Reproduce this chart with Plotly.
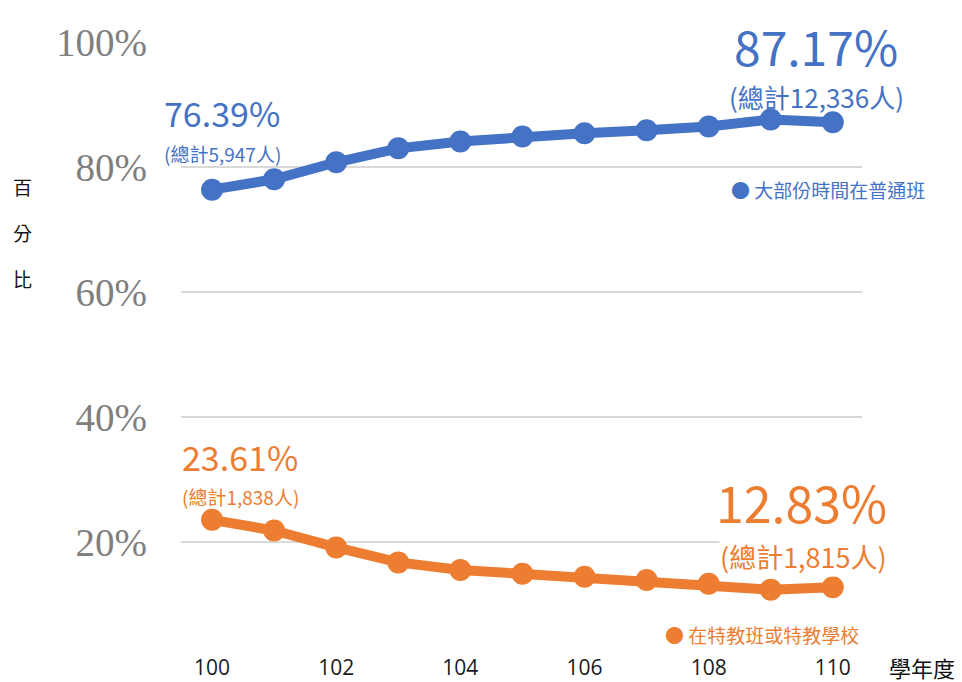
import plotly.graph_objects as go

years = [100, 101, 102, 103, 104, 105, 106, 107, 108, 109, 110]
general_pct = [76.39, 78.05, 80.77, 83.0, 84.1, 84.9, 85.4, 85.9, 86.5, 87.6, 87.17]
special_pct = [23.61, 21.9, 19.2, 16.8, 15.6, 15.0, 14.5, 14.0, 13.4, 12.45, 12.83]
series_names = ["大部份時間在普通班", "在特教班或特教學校"]
y_ticks = [20, 40, 60, 80, 100]
y_tick_text = ["20%", "40%", "60%", "80%", "100%"]
x_ticks = [100, 102, 104, 106, 108, 110]

BLUE = "#4472C4"
ORANGE = "#ED7D31"
OFF = 8  # page body margin
W, H = 962 - OFF, 682 - OFF
ML, MR, MT, MB = 181 - OFF, 100, 42 - OFF, 52
PW, PH = W - ML - MR, H - MT - MB


def px(x):
    return (x - OFF - ML) / PW


def py(y):
    return (H - MB - (y - OFF)) / PH


fig = go.Figure()
fig.add_trace(go.Scatter(x=years, y=general_pct, mode="lines+markers", name=series_names[0],
                         line=dict(color=BLUE, width=10), marker=dict(color=BLUE, size=22),
                         showlegend=False, cliponaxis=False))
fig.add_trace(go.Scatter(x=years, y=special_pct, mode="lines+markers", name=series_names[1],
                         line=dict(color=ORANGE, width=10), marker=dict(color=ORANGE, size=22),
                         showlegend=False, cliponaxis=False))

CJK = "Noto Sans CJK TC"
ann = []


def add(text, x, y, size, color, xanchor="center", bg=None, family=CJK):
    a = dict(text=text, x=px(x), y=py(y), xref="paper", yref="paper", showarrow=False,
             xanchor=xanchor, yanchor="middle", font=dict(family=family, size=size, color=color),
             borderpad=0)
    if bg:
        a["bgcolor"] = bg
    ann.append(a)


add("76.39%", 222, 113, 34, BLUE)
add("(總計5,947人)", 222, 153, 19, BLUE)
add("87.17%", 816, 45, 48, BLUE, bg="white")
add("(總計12,336人)", 816, 96, 26, BLUE)
add("23.61%", 240, 456, 34, ORANGE)
add("(總計1,838人)", 240, 496, 19, ORANGE)
add("12.83%", 801, 501, 50, ORANGE, bg="white")
add("(總計1,815人)", 803, 556, 27, ORANGE, bg="white")
add("● " + series_names[0], 730, 190, 19, BLUE, xanchor="left")
add("● " + series_names[1], 664, 634, 19, ORANGE, xanchor="left")
for ch, yy in zip("百分比", [186, 232, 278]):
    add(ch, 22, yy, 19, "#111111")
add("學年度", 922, 667, 22, "#111111")

fig.update_layout(
    width=W, height=H,
    margin=dict(l=ML, r=MR, t=MT, b=MB),
    paper_bgcolor="white", plot_bgcolor="white",
    annotations=ann,
    xaxis=dict(range=[99.5, 110.47], tickvals=x_ticks, showgrid=False, zeroline=False,
               showline=False, ticks="", ticklabelstandoff=23, automargin=False,
               tickfont=dict(family="Open Sans", size=21, color="#1a1a1a")),
    yaxis=dict(range=[6, 100], tickvals=y_ticks, ticktext=y_tick_text, showgrid=True,
               gridcolor="#d9d9d9", gridwidth=2, zeroline=False, showline=False, ticks="",
               ticklabelstandoff=33, automargin=False,
               tickfont=dict(family="Liberation Serif", size=39, color="#7f7f7f")),
)

fig.write_html("out.html")
